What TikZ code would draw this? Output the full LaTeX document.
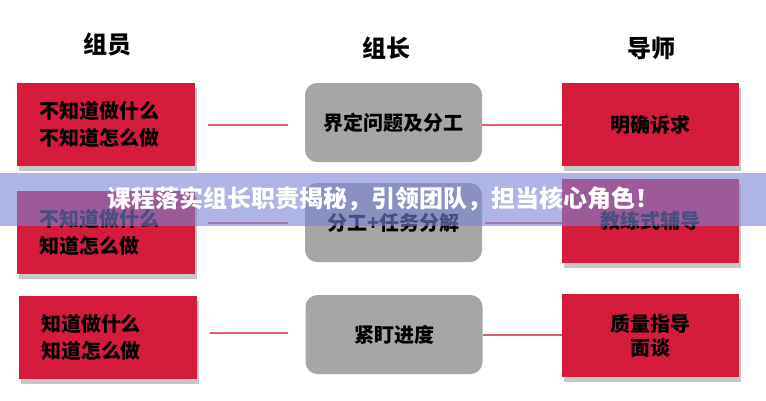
\documentclass[tikz,border=0pt]{standalone}
\usepackage{fontspec}
\setmainfont{Noto Sans CJK SC}
\usepackage{tikz}
\usetikzlibrary{shadows}
\definecolor{CrimsonBox}{HTML}{D51C3D}
\definecolor{GrayBox}{HTML}{A6A6A6}
\definecolor{LinkPink}{HTML}{DE5E72}
\definecolor{BannerBlue}{HTML}{7884D6}

\begin{document}
\begin{tikzpicture}[x=1pt, y=-1pt,
  header/.style={font=\fontsize{24}{28}\selectfont\bfseries},
  boxshadow/.style={drop shadow={shadow xshift=2pt, shadow yshift=-5pt, opacity=0.22, fill=black}},
  member/.style={fill=CrimsonBox, boxshadow, minimum width=178pt, minimum height=83pt,
    text width=134pt, inner xsep=22pt, align=left, font=\fontsize{20}{27}\selectfont\bfseries},
  leader/.style={fill=GrayBox, rounded corners=12pt, minimum width=177pt, minimum height=79pt,
    align=center, font=\fontsize{20}{24}\selectfont\bfseries},
  mentor/.style={fill=CrimsonBox, boxshadow, minimum width=177pt, minimum height=83pt,
    align=center, font=\fontsize{20}{24}\selectfont\bfseries},
  link/.style={LinkPink, line width=2pt}]
  \useasboundingbox (0,0) rectangle (766,400);
  \fill[white] (0,0) rectangle (766,400);

  % Column headers
  \node[header] (hmember) at (107,44) {组员};
  \node[header] (hleader) at (386,48) {组长};
  \node[header] (hmentor) at (651,48) {导师};

  % Row 1
  \node[member] (m1) at (106,124.5) {不知道做什么\\不知道怎么做};
  \node[leader] (l1) at (393.5,122.5) {界定问题及分工};
  \node[mentor] (t1) at (650.5,124.5) {明确诉求};
  \draw[link, shorten <=13pt, shorten >=17pt] (m1.east) -- (m1.east -| l1.west);
  \draw[link] (l1.east |- 0,125) -- (t1.west |- 0,125);

  % Row 2
  \node[member] (m2) at (106,232.5) {不知道做什么\\知道怎么做};
  \node[leader] (l2) at (393.5,222.5) {分工+任务分解};
  \node[mentor, minimum height=84pt] (t2) at (650.5,221) {教练式辅导};
  \draw[link, shorten <=13pt, shorten >=17pt] (m2.east |- l2.east) -- (l2.west);
  \draw[link, shorten <=3pt] (l2.east) -- (t2.west |- l2.east);

  % Row 3
  \node[member] (m3) at (108,337.5) {知道做什么\\知道怎么做};
  \node[leader] (l3) at (394,334.5) {紧盯进度};
  \node[mentor] (t3) at (650.5,335.5) {质量指导\\面谈};
  \draw[link, shorten <=13pt, shorten >=17pt] (m3.east |- 0,333) -- (l3.west |- 0,333);
  \draw[link] (l3.east) -- (t3.west |- l3.east);

  % Banner across the middle
  \fill[BannerBlue, fill opacity=0.6] (0,173) rectangle (766,226);
  \node[white, font=\fontsize{24}{28}\selectfont\bfseries] (banner) at (383.5,199) {课程落实组长职责揭秘，引领团队，担当核心角色！};
\end{tikzpicture}
\end{document}
